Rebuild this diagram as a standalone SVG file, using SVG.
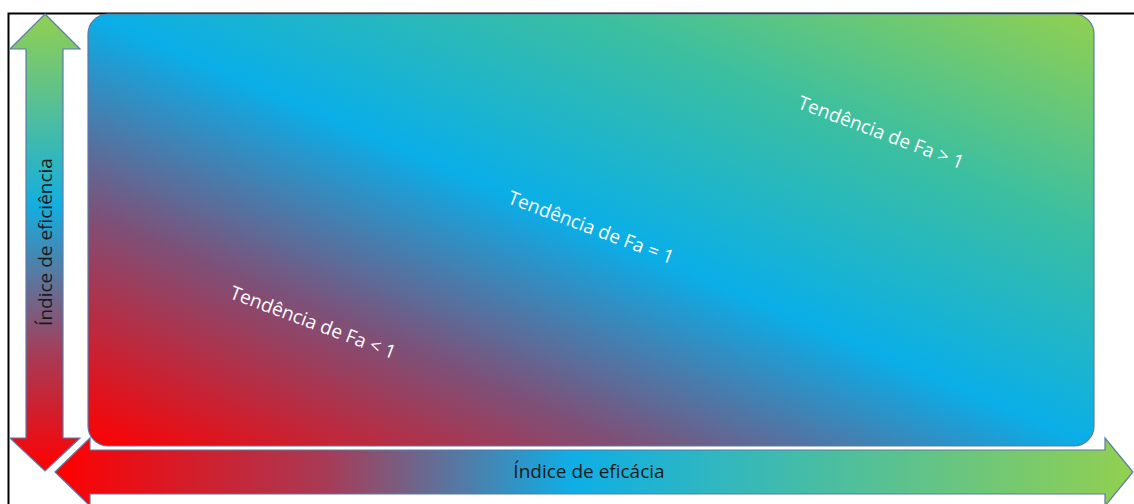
<svg xmlns="http://www.w3.org/2000/svg" width="1134" height="504" viewBox="0 0 1134 504">
  <defs>
    <!-- field gradient: red bottom-left, blue across the diagonal, green top-right -->
    <linearGradient id="fieldGrad" x1="0" y1="1" x2="1" y2="0">
      <stop offset="0" stop-color="#ff0000"/>
      <stop offset="0.27" stop-color="#7e5078"/>
      <stop offset="0.5" stop-color="#0aaee8"/>
      <stop offset="0.75" stop-color="#3cbfa0"/>
      <stop offset="1" stop-color="#92d050"/>
    </linearGradient>
    <linearGradient id="vGrad" x1="0" y1="14" x2="0" y2="471" gradientUnits="userSpaceOnUse">
      <stop offset="0" stop-color="#92d050"/>
      <stop offset="0.42" stop-color="#14aee0"/>
      <stop offset="0.75" stop-color="#a83a55"/>
      <stop offset="1" stop-color="#ff0000"/>
    </linearGradient>
    <linearGradient id="hGrad" x1="55" y1="0" x2="1133" y2="0" gradientUnits="userSpaceOnUse">
      <stop offset="0" stop-color="#ff0000"/>
      <stop offset="0.25" stop-color="#a83a55"/>
      <stop offset="0.48" stop-color="#0eaee6"/>
      <stop offset="1" stop-color="#92d050"/>
    </linearGradient>
  </defs>
  <style>
    .outline { stroke: #5b7aa8; stroke-width: 1.2; }
    .trend { font-family: "Open Sans", "Noto Sans", sans-serif; font-size: 19px; fill: #ffffff; text-anchor: middle; }
    .axis { font-family: "Open Sans", "Noto Sans", sans-serif; font-size: 19px; fill: #1a1a1a; text-anchor: middle; }
  </style>

  <rect width="1134" height="504" fill="#ffffff"/>
  <!-- outer frame -->
  <path d="M8.5,504 V13.5 H1134" fill="none" stroke="#000000" stroke-width="2"/>

  <g id="field">
    <rect x="88" y="14" width="1006" height="432" rx="20" ry="20" fill="url(#fieldGrad)" class="outline"/>
    <text class="trend" transform="translate(313,323) rotate(20.5)" y="6">Tendência de Fa &lt; 1</text>
    <text class="trend" transform="translate(591,228) rotate(20.5)" y="6">Tendência de Fa = 1</text>
    <text class="trend" transform="translate(881,133) rotate(20.5)" y="6">Tendência de Fa &gt; 1</text>
  </g>

  <g id="efficiency-axis">
    <path d="M45,14 L80,49 L63,49 L63,438 L80,438 L45,471 L10,438 L26,438 L26,49 L10,49 Z" fill="url(#vGrad)" class="outline"/>
    <text class="axis" transform="translate(52,242) rotate(-90)">Índice de eficiência</text>
  </g>

  <g id="efficacy-axis">
    <path d="M55,472 L90,438 L90,450 L1105,450 L1105,438 L1133,472 L1105,506 L1105,494 L90,494 L90,506 Z" fill="url(#hGrad)" class="outline"/>
    <text class="axis" x="589" y="478">Índice de eficácia</text>
  </g>
</svg>
